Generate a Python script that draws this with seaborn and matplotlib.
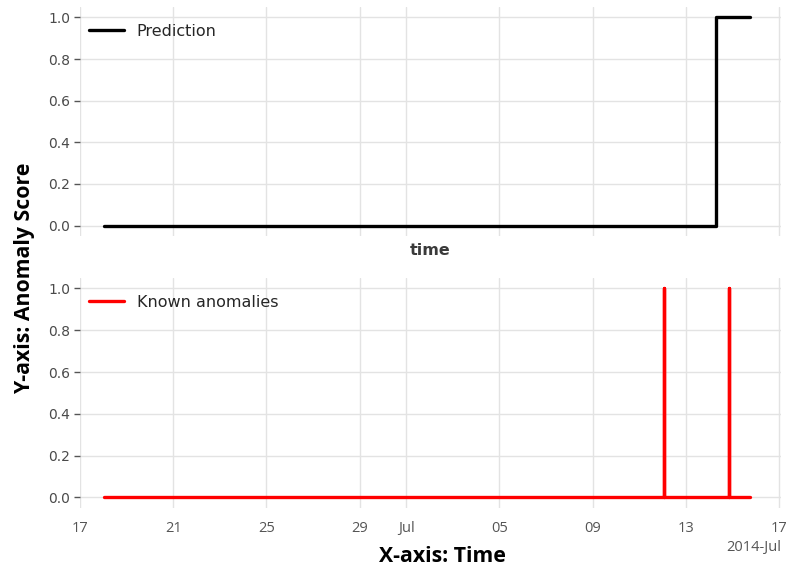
import pandas as pd
import matplotlib.pyplot as plt
import matplotlib.dates as mdates
import seaborn as sns

# prediction (step from 0 to 1)
pred_times = ["2014-06-18 00:45", "2014-07-14 07:30", "2014-07-14 07:30", "2014-07-15 17:50"]
pred_values = [0, 0, 1, 1]

# known anomalies (two spikes)
known_times = ["2014-06-18 00:45",
               "2014-07-12 01:40", "2014-07-12 01:40", "2014-07-12 01:40",
               "2014-07-14 21:00", "2014-07-14 21:00", "2014-07-14 21:00",
               "2014-07-15 17:50"]
known_values = [0, 0, 1, 0, 0, 1, 0, 0]

dfPred = pd.DataFrame({"time": pd.to_datetime(pred_times), "value": pred_values})
dfKnown = pd.DataFrame({"time": pd.to_datetime(known_times), "value": known_values})

sns.set_theme(style="whitegrid")
plt.rcParams["font.family"] = ["DejaVu Sans"]

fig = plt.figure(figsize=(7.88, 5.72), dpi=100)
ax1 = fig.add_axes([0.1015, 0.5874, 0.8895, 0.4004])
ax2 = fig.add_axes([0.1015, 0.112, 0.8895, 0.402], sharex=ax1)

sns.lineplot(data=dfPred, x="time", y="value", ax=ax1, color="black", lw=2.4,
             estimator=None, sort=False, label="Prediction")
sns.lineplot(data=dfKnown, x="time", y="value", ax=ax2, color="red", lw=2.4,
             estimator=None, sort=False, label="Known anomalies")

for ax in (ax1, ax2):
    ax.set_ylim(-0.05, 1.05)
    ax.set_yticks([0, 0.2, 0.4, 0.6, 0.8, 1.0])
    ax.grid(True, color="#e3e3e3", lw=1)
    for s in ax.spines.values():
        s.set_visible(False)
    ax.tick_params(axis="y", left=True, length=4, width=1, color="#555555",
                   labelsize=10, labelcolor="#4a4a4a", pad=3)
    ax.tick_params(axis="x", bottom=False, labelsize=10.5, labelcolor="#555555")
    ax.set_ylabel("")
    ax.legend(loc="upper left", bbox_to_anchor=(-0.008, 0.99), frameon=False,
              fontsize=11.5, handlelength=2.2)

ax1.set_xlim(pd.Timestamp("2014-06-17"), pd.Timestamp("2014-07-17 02:00"))
loc = mdates.DayLocator(bymonthday=[1, 5, 9, 13, 17, 21, 25, 29])
ax2.xaxis.set_major_locator(loc)
ax2.xaxis.set_major_formatter(mdates.ConciseDateFormatter(loc))
plt.setp(ax1.get_xticklabels(), visible=False)
ax1.xaxis.get_offset_text().set_visible(False)
for t in ax2.get_xticklabels():
    t.set_fontfamily("Open Sans")
off = ax2.xaxis.get_offset_text()
off.set_fontfamily("Open Sans")
off.set_fontsize(10.5)
off.set_color("#555555")

ax1.set_xlabel("time", fontsize=11.5, fontweight="bold", color="#3a3a3a", labelpad=5)
ax2.set_xlabel("")

fig.text(442 / 788, 1 - 556 / 572, "X-axis: Time", ha="center", va="center",
         fontsize=15.3, fontweight="bold", family="Open Sans", color="black")
fig.text(25 / 788, 1 - 278 / 572, "Y-axis: Anomaly Score", ha="center", va="center",
         rotation=90, fontsize=15.3, fontweight="bold", family="Open Sans", color="black")

fig.savefig("out.png", dpi=100)
